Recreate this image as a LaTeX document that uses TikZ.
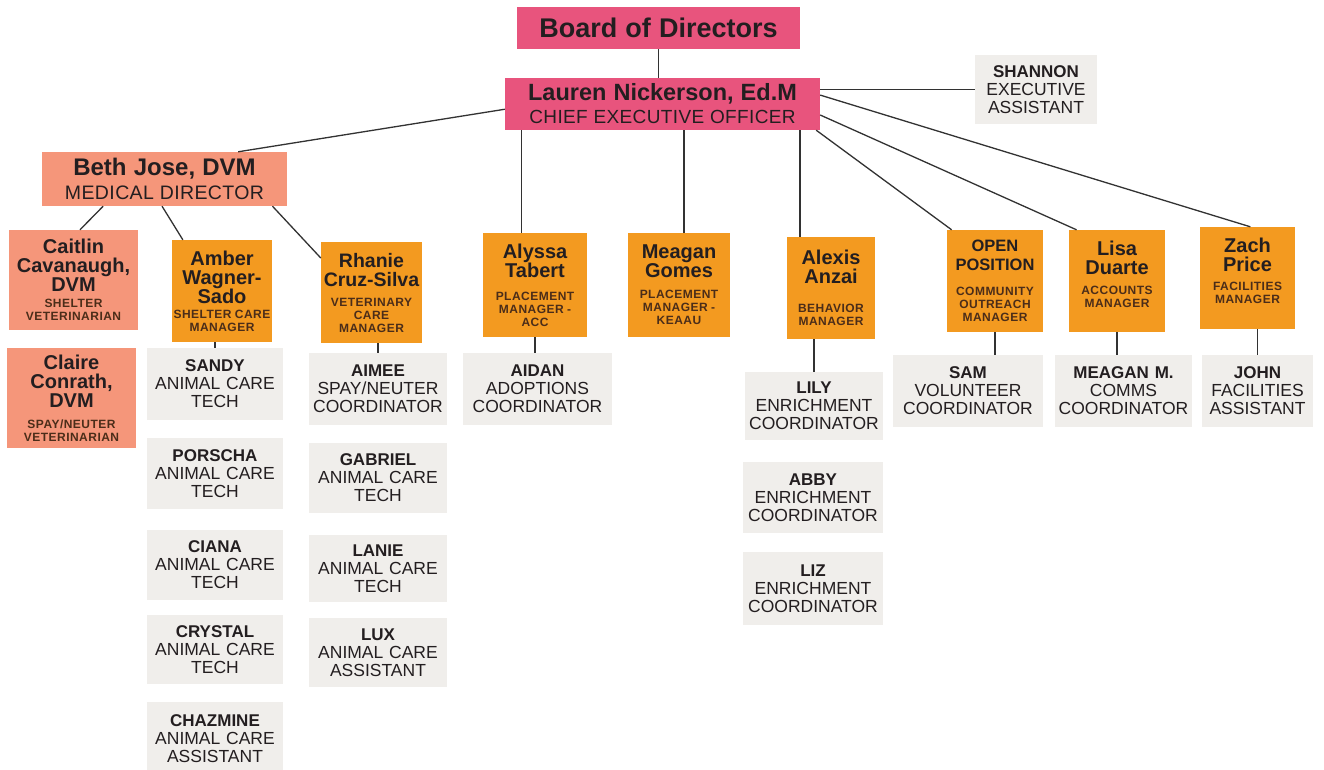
\documentclass[tikz,border=0pt]{standalone}
\usepackage{fontspec}
\setmainfont{Liberation Sans}
\usetikzlibrary{calc}
\definecolor{pinkc}{RGB}{232,84,125}
\definecolor{salmon}{RGB}{245,150,122}
\definecolor{orangec}{RGB}{243,154,32}
\definecolor{grayc}{RGB}{240,238,235}
\definecolor{ink}{RGB}{35,30,32}
\definecolor{roleink}{RGB}{75,45,25}
\definecolor{linec}{RGB}{50,50,50}
\newcommand\bx[7]{%
 \pgfmathsetmacro\bw{#5-#3}\pgfmathsetmacro\bh{#6-#4}%
 \pgfmathsetmacro\bcx{(#3+#5)/2}\pgfmathsetmacro\bcy{(#4+#6)/2}%
 \node[box,#2,minimum width=\bw pt,minimum height=\bh pt,text width=\bw pt] (#1) at (\bcx,\bcy) {#7};}
\newcommand\gname[1]{{\fontsize{17}{18}\selectfont\bfseries #1}\\}
\newcommand\oname[2][20]{{\fontsize{#1}{19}\selectfont\bfseries #2\par}}
\newcommand\orole[1]{{\fontsize{12}{13}\selectfont\addfontfeatures{LetterSpace=4}\bfseries\color{roleink}#1\par}}
\newcommand\wsp{\spaceskip=0.3em\relax}
\begin{document}
\begin{tikzpicture}[x=1pt,y=-1pt,
  box/.style={inner sep=0pt, align=center, text=ink},
  pinkb/.style={fill=pinkc}, salb/.style={fill=salmon}, orb/.style={fill=orangec},
  grayb/.style={fill=grayc, font=\fontsize{17.5}{18}\selectfont},
  conn/.style={draw=linec, line width=1.3pt}]
\useasboundingbox[fill=white] (0,0) rectangle (1324,769);
\bx{board}{pinkb}{517}{7}{800}{49}{{\fontsize{27}{30}\selectfont\bfseries\wsp Board of Directors\par}}
\bx{ceo}{pinkb}{505}{78}{820}{130}{{\fontsize{23.5}{26}\selectfont\bfseries\wsp Lauren Nickerson, Ed.M\par}{\fontsize{19}{23}\selectfont\addfontfeatures{LetterSpace=2}\wsp CHIEF EXECUTIVE OFFICER\par}}
\bx{shannon}{grayb}{975}{55}{1097}{124}{\gname{SHANNON}EXECUTIVE\\ASSISTANT}
\bx{beth}{salb}{42}{152}{287}{206}{{\fontsize{24}{26}\selectfont\bfseries\wsp Beth Jose, DVM\par}{\fontsize{19.5}{24}\selectfont\addfontfeatures{LetterSpace=2}\wsp MEDICAL DIRECTOR\par}}
\bx{caitlin}{salb}{9}{230}{138}{330}{\oname{Caitlin\\Cavanaugh,\\DVM}\vspace{3pt}\orole{SHELTER\\VETERINARIAN}}
\bx{claire}{salb}{7}{348}{136}{448}{\oname{Claire\\Conrath,\\DVM}\vspace{8pt}\orole{SPAY/NEUTER\\VETERINARIAN}}
\bx{amber}{orb}{172}{240}{272}{342}{\oname{Amber\\Wagner-\\Sado}\vspace{2pt}\orole{SHELTER CARE\\MANAGER}}
\bx{rhanie}{orb}{321}{242}{422}{343}{\oname[19.5]{Rhanie\\Cruz-Silva}\vspace{7pt}\orole{VETERINARY\\CARE\\MANAGER}}
\bx{sandy}{grayb}{147}{348}{283}{420}{\gname{SANDY}ANIMAL CARE\\TECH}
\bx{porscha}{grayb}{147}{438}{283}{509}{\gname{PORSCHA}ANIMAL CARE\\TECH}
\bx{ciana}{grayb}{147}{530}{283}{600}{\gname{CIANA}ANIMAL CARE\\TECH}
\bx{crystal}{grayb}{147}{615}{283}{684}{\gname{CRYSTAL}ANIMAL CARE\\TECH}
\bx{chazmine}{grayb}{147}{702}{283}{775}{\gname{CHAZMINE}ANIMAL CARE\\ASSISTANT}
\bx{aimee}{grayb}{309}{353}{447}{425}{\gname{AIMEE}SPAY/NEUTER\\COORDINATOR}
\bx{gabriel}{grayb}{309}{443}{447}{513}{\gname{GABRIEL}ANIMAL CARE\\TECH}
\bx{lanie}{grayb}{309}{535}{447}{602}{\gname{LANIE}ANIMAL CARE\\TECH}
\bx{lux}{grayb}{309}{618}{447}{687}{\gname{LUX}ANIMAL CARE\\ASSISTANT}
\bx{alyssa}{orb}{483}{233}{587}{337}{\oname{Alyssa\\Tabert}\vspace{10pt}\orole{PLACEMENT\\MANAGER -\\ACC}}
\bx{aidan}{grayb}{463}{353}{612}{425}{\gname{AIDAN}ADOPTIONS\\COORDINATOR}
\bx{meagan}{orb}{628}{233}{730}{337}{\oname{Meagan\\Gomes}\vspace{8pt}\orole{PLACEMENT\\MANAGER -\\KEAAU}}
\bx{alexis}{orb}{787}{237}{875}{339}{\oname{Alexis\\Anzai}\vspace{16pt}\orole{BEHAVIOR\\MANAGER}}
\bx{lily}{grayb}{745}{372}{883}{440}{\gname{LILY}ENRICHMENT\\COORDINATOR}
\bx{abby}{grayb}{743}{462}{883}{533}{\gname{ABBY}ENRICHMENT\\COORDINATOR}
\bx{liz}{grayb}{743}{552}{883}{625}{\gname{LIZ}ENRICHMENT\\COORDINATOR}
\bx{open}{orb}{947}{230}{1043}{332}{\oname[16.5]{OPEN\\POSITION}\vspace{12pt}\orole{COMMUNITY\\OUTREACH\\MANAGER}}
\bx{lisa}{orb}{1069}{230}{1165}{332}{\oname{Lisa\\Duarte}\vspace{7pt}\orole{ACCOUNTS\\MANAGER}\vspace{14pt}}
\bx{zach}{orb}{1200}{227}{1295}{329}{\oname{Zach\\Price}\vspace{6pt}\orole{FACILITIES\\MANAGER}\vspace{14pt}}
\bx{sam}{grayb}{893}{355}{1043}{427}{\gname{SAM}VOLUNTEER\\COORDINATOR}
\bx{meaganm}{grayb}{1055}{355}{1192}{427}{\gname{MEAGAN M.}COMMS\\COORDINATOR}
\bx{john}{grayb}{1202}{355}{1313}{427}{\gname{JOHN}FACILITIES\\ASSISTANT}
% connectors
\draw[conn] (board.south) -- (board.south |- ceo.north);
\draw[conn] (ceo.east |- shannon.west) -- (shannon.west);
\draw[conn] ($(ceo.north west)!0.6!(ceo.south west)$) -- ($(beth.north west)!0.8!(beth.north east)$);
\coordinate (ca) at ($(alyssa.north west)!0.37!(alyssa.north east)$);
\draw[conn] (ca) -- (ca |- ceo.south);
\coordinate (cm) at ($(meagan.north west)!0.55!(meagan.north east)$);
\draw[conn] (cm) -- (cm |- ceo.south);
\coordinate (cx) at ($(alexis.north west)!0.15!(alexis.north east)$);
\draw[conn] (cx) -- (cx |- ceo.south);
\draw[conn] ($(ceo.south east)+(-4,0)$) -- ($(open.north west)!0.05!(open.north east)$);
\draw[conn] ($(ceo.north east)!0.71!(ceo.south east)$) -- ($(lisa.north west)!0.08!(lisa.north east)$);
\draw[conn] ($(ceo.north east)!0.33!(ceo.south east)$) -- ($(zach.north west)!0.53!(zach.north east)$);
\draw[conn] ($(beth.south west)!0.25!(beth.south east)$) -- ($(caitlin.north west)!0.55!(caitlin.north east)$);
\draw[conn] ($(beth.south west)!0.49!(beth.south east)$) -- ($(amber.north west)!0.11!(amber.north east)$);
\draw[conn] ($(beth.south west)!0.94!(beth.south east)$) -- ($(rhanie.north west)!0.16!(rhanie.south west)$);
\draw[conn] (sandy.north) -- (sandy.north |- amber.south);
\draw[conn] (aimee.north) -- (aimee.north |- rhanie.south);
\draw[conn] (alyssa.south) -- (alyssa.south |- aidan.north);
\draw[conn] (lily.north) -- (lily.north |- alexis.south);
\draw[conn] (open.south) -- (open.south |- sam.north);
\draw[conn] (lisa.south) -- (lisa.south |- meaganm.north);
\draw[conn] (john.north) -- (john.north |- zach.south);
\end{tikzpicture}
\end{document}
